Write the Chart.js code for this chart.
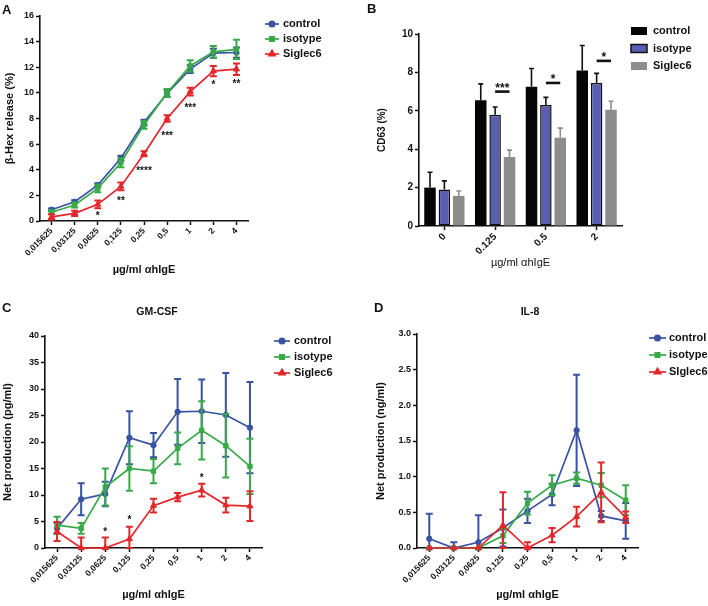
<!DOCTYPE html>
<html>
<head>
<meta charset="utf-8">
<script src="https://cdn.jsdelivr.net/npm/chart.js@4.4.1/dist/chart.umd.min.js"></script>
<style>
  html, body { margin: 0; padding: 0; background: #fff; }
  #figure { position: relative; width: 708px; height: 606px; overflow: hidden; }
  #figure canvas { position: absolute; }
</style>
</head>
<body>
<div id="figure">
  <canvas id="hexChart" width="354" height="300" style="left:0;top:0;width:354px;height:300px"></canvas>
  <canvas id="cd63Chart" width="354" height="300" style="left:354px;top:0;width:354px;height:300px"></canvas>
  <canvas id="gmChart" width="354" height="306" style="left:0;top:300px;width:354px;height:306px"></canvas>
  <canvas id="ilChart" width="354" height="306" style="left:354px;top:300px;width:354px;height:306px"></canvas>
</div>
<script>
// concentrations (µg/ml anti-hIgE)
const concLabels = ['0,015625', '0,03125', '0,0625', '0,125', '0,25', '0,5', '1', '2', '4']
const seriesNames = ['control', 'isotype', 'Siglec6']

// A - beta-hex release (%)
const hexControl = [0.88, 1.5, 2.8, 4.9, 7.7, 9.95, 11.85, 13.1, 13.15]
const hexControlErr = [0.1, 0.12, 0.15, 0.2, 0.2, 0.25, 0.3, 0.35, 0.4]
const hexIsotype = [0.68, 1.25, 2.55, 4.55, 7.5, 10.0, 12.1, 13.2, 13.4]
const hexIsotypeErr = [0.15, 0.2, 0.3, 0.35, 0.3, 0.3, 0.45, 0.45, 0.75]
const hexSiglec = [0.32, 0.6, 1.3, 2.7, 5.25, 8.0, 10.1, 11.7, 11.85]
const hexSiglecErr = [0.2, 0.2, 0.3, 0.3, 0.2, 0.25, 0.3, 0.4, 0.45]
const hexStars = ['', '', '*', '**', '****', '***', '***', '*', '**']
const hexStarsAt = [0, 0, 0.55, 1.7, 4.05, 6.8, 9.0, 10.8, 10.85]

// B - CD63 (%)
const cd63Labels = ['0', '0.125', '0.5', '2']
const cd63Control = [2.0, 6.55, 7.25, 8.1]
const cd63ControlErr = [0.8, 0.85, 0.95, 1.3]
const cd63Isotype = [1.9, 5.8, 6.3, 7.45]
const cd63IsotypeErr = [0.45, 0.4, 0.4, 0.5]
const cd63Siglec = [1.57, 3.6, 4.6, 6.05]
const cd63SiglecErr = [0.25, 0.35, 0.5, 0.45]
const cd63SigGroups = [1, 2, 3]
const cd63SigStars = ['***', '*', '*']
const cd63SigLineAt = [7.0, 7.45, 8.6]

// C - GM-CSF (pg/ml)
const gmControl = [3.7, 9.2, 10.2, 20.8, 19.4, 25.7, 25.8, 25.1, 22.7]
const gmControlErr = [1.0, 3.0, 2.3, 5.0, 2.3, 6.2, 6.0, 7.9, 8.6]
const gmIsotype = [4.3, 3.7, 11.5, 15.0, 14.5, 18.8, 22.2, 19.3, 15.4]
const gmIsotypeErr = [1.6, 1.0, 3.5, 4.2, 2.3, 3.0, 5.5, 6.0, 5.2]
const gmSiglec = [3.1, 0, 0, 1.7, 8.0, 9.6, 10.9, 8.1, 7.9]
const gmSiglecErr = [1.8, 2.0, 2.0, 2.3, 1.3, 0.8, 1.2, 1.4, 2.8]
const gmStars = ['', '', '*', '*', '', '', '*', '', '']
const gmStarsAt = [0, 0, 3.3, 5.6, 0, 0, 13.6, 0, 0]

// D - IL-8 (ng/ml)
const ilControl = [0.13, 0, 0.08, 0.28, 0.52, 0.75, 1.65, 0.45, 0.38]
const ilControlErr = [0.35, 0.08, 0.38, 0.26, 0.17, 0.15, 0.78, 0.07, 0.25]
const ilIsotype = [0, 0, 0, 0.17, 0.63, 0.88, 0.98, 0.88, 0.67]
const ilIsotypeErr = [0, 0, 0, 0.1, 0.16, 0.14, 0.08, 0.17, 0.21]
const ilSiglec = [0, 0, 0, 0.32, 0, 0.18, 0.44, 0.78, 0.43]
const ilSiglecErr = [0, 0, 0, 0.46, 0.08, 0.1, 0.14, 0.42, 0.08]

const FONT = "'Liberation Sans', Arial, Helvetica, sans-serif"
const INK = '#111'
Chart.defaults.font.family = FONT
Chart.defaults.font.weight = 'bold'
Chart.defaults.color = INK

const lineStyles = [
  { color: '#3953a4', pointStyle: 'circle', radius: 2.7, order: 2 },
  { color: '#37a948', pointStyle: 'rect', radius: 3.1, order: 1 },
  { color: '#e4262b', pointStyle: 'triangle', radius: 3.5, order: 0 },
]

const lineDataset = (idx, label, data, errors) => ({
  label: label,
  data: data,
  errors: errors,
  errorWidth: 2,
  capHalf: 3.5,
  borderColor: lineStyles[idx].color,
  backgroundColor: lineStyles[idx].color,
  borderWidth: 1.7,
  pointStyle: lineStyles[idx].pointStyle,
  pointRadius: lineStyles[idx].radius,
  pointBorderWidth: 1,
  order: lineStyles[idx].order,
  clip: false,
  tension: 0,
})

const markList = (labels, values) => labels
  .map((text, i) => ({ index: i, text: text, value: values[i] }))
  .filter(m => m.text)

// vertical error bars drawn with the chart's own y scale
const errorBarPlugin = {
  id: 'errorBars',
  afterDatasetDraw(chart, args) {
    const ds = chart.data.datasets[args.index]
    if (!ds.errors) return
    const yScale = chart.scales.y
    const ctx = chart.ctx
    ctx.save()
    ctx.strokeStyle = ds.errorColor || ds.borderColor
    ctx.lineWidth = ds.errorWidth || 1.6
    const cap = ds.capHalf || 3
    args.meta.data.forEach((el, i) => {
      const v = ds.data[i]
      const e = ds.errors[i]
      if (!e) return
      const x = el.x
      const top = yScale.getPixelForValue(v + e)
      const bottom = ds.upperOnly ? yScale.getPixelForValue(v) : yScale.getPixelForValue(Math.max(v - e, yScale.min))
      ctx.beginPath()
      ctx.moveTo(x, top)
      ctx.lineTo(x, bottom)
      ctx.moveTo(x - cap, top)
      ctx.lineTo(x + cap, top)
      if (!ds.upperOnly) {
        ctx.moveTo(x - cap, bottom)
        ctx.lineTo(x + cap, bottom)
      }
      ctx.stroke()
    })
    ctx.restore()
  }
}

// significance stars (and brackets for the bar chart)
const starPlugin = {
  id: 'stars',
  afterDatasetsDraw(chart, args, opts) {
    const ctx = chart.ctx
    const size = opts.size || 10
    ctx.save()
    ctx.fillStyle = INK
    ctx.strokeStyle = INK
    ctx.font = `bold ${size}px ${FONT}`
    ctx.textAlign = 'center'
    ctx.textBaseline = 'middle'
    ;(opts.marks || []).forEach(m => {
      let x = chart.scales.x.getPixelForValue(m.index)
      if (m.line !== undefined) {
        const x1 = chart.getDatasetMeta(1).data[m.index].x
        const x2 = chart.getDatasetMeta(2).data[m.index].x
        const yl = chart.scales.y.getPixelForValue(m.line)
        ctx.lineWidth = 2.6
        ctx.beginPath()
        ctx.moveTo(x1, yl)
        ctx.lineTo(x2, yl)
        ctx.stroke()
        x = (x1 + x2) / 2
      }
      const y = chart.scales.y.getPixelForValue(m.value)
      ctx.fillText(m.text, x, y + size * 0.22)
    })
    ctx.restore()
  }
}

const sideLegendPlugin = {
  id: 'sideLegend',
  afterDraw(chart, args, opts) {
    const ctx = chart.ctx
    ctx.save()
    ctx.font = `bold 11px ${FONT}`
    ctx.textBaseline = 'middle'
    ctx.textAlign = 'left'
    chart.data.datasets.forEach((ds, i) => {
      const y = opts.y + i * opts.gap
      if (opts.kind === 'box') {
        ctx.fillStyle = ds.backgroundColor
        ctx.fillRect(opts.x, y - 4, 16, 8)
        if (ds.borderWidth) {
          ctx.strokeStyle = ds.borderColor
          ctx.lineWidth = 1.5
          ctx.strokeRect(opts.x, y - 4, 16, 8)
        }
      } else {
        ctx.strokeStyle = ds.borderColor
        ctx.fillStyle = ds.borderColor
        ctx.lineWidth = 1.7
        ctx.beginPath()
        ctx.moveTo(opts.x, y)
        ctx.lineTo(opts.x2, y)
        ctx.stroke()
        Chart.helpers.drawPoint(ctx, {
          pointStyle: ds.pointStyle, radius: ds.pointRadius, rotation: 0, borderWidth: 1
        }, (opts.x + opts.x2) / 2, y)
      }
      ctx.fillStyle = INK
      ctx.fillText(ds.label, opts.textX, y)
    })
    ctx.restore()
  }
}

const panelTextPlugin = {
  id: 'panelText',
  afterDraw(chart, args, opts) {
    const ctx = chart.ctx
    ctx.save()
    ctx.fillStyle = INK
    ctx.textBaseline = 'middle'
    ctx.font = `bold 13px ${FONT}`
    ctx.textAlign = 'left'
    ctx.fillText(opts.letter, opts.letterX, opts.letterY)
    if (opts.title) {
      ctx.font = `bold 10.5px ${FONT}`
      ctx.textAlign = 'center'
      ctx.fillText(opts.title, opts.titleX, opts.titleY)
    }
    ctx.restore()
  }
}

const tickGrid = {
  display: true, drawOnChartArea: false, drawTicks: true,
  tickLength: 4, tickWidth: 1.5, tickColor: INK, offset: false,
}

const scalesFactory = (s) => ({
  x: {
    type: 'category',
    offset: true,
    grid: tickGrid,
    border: { display: true, color: INK, width: 1.6 },
    ticks: {
      minRotation: 45, maxRotation: 45, autoSkip: false, padding: 1,
      font: { size: s.xTickSize || 8.5, weight: 'bold' }, color: INK,
    },
    title: {
      display: true, text: 'µg/ml αhIgE', color: INK,
      font: { size: 11, weight: s.xTitleWeight || 'bold' },
      padding: { top: 0, bottom: s.xTitlePad },
    },
    afterFit: scale => { scale.height = s.xHeight },
  },
  y: {
    min: 0,
    max: s.yMax,
    grid: tickGrid,
    border: { display: true, color: INK, width: 1.6 },
    ticks: {
      stepSize: s.yStep, padding: 2, color: INK,
      font: { size: s.yTickSize || 9, weight: 'bold' },
      callback: v => v.toFixed(s.yDecimals || 0),
    },
    title: {
      display: true, text: s.yTitle, color: INK,
      font: { size: s.yTitleSize || 11, weight: 'bold' },
      padding: { top: s.yTitlePad, bottom: 0 },
    },
    afterFit: scale => { scale.width = s.yWidth },
  },
})

const graphConfigFactory = (type, labels, datasets, scaleSet, padding, pluginOpts) => ({
  type: type,
  data: { labels: labels, datasets: datasets },
  options: {
    responsive: false,
    animation: false,
    devicePixelRatio: 1,
    layout: { padding: padding },
    scales: scalesFactory(scaleSet),
    plugins: Object.assign({ legend: { display: false }, tooltip: { enabled: false } }, pluginOpts),
  },
  plugins: [errorBarPlugin, starPlugin, sideLegendPlugin, panelTextPlugin],
})

// A
new Chart(document.getElementById('hexChart').getContext('2d'), graphConfigFactory(
  'line', concLabels,
  [
    lineDataset(0, seriesNames[0], hexControl, hexControlErr),
    lineDataset(1, seriesNames[1], hexIsotype, hexIsotypeErr),
    lineDataset(2, seriesNames[2], hexSiglec, hexSiglecErr),
  ],
  { yTitle: 'β-Hex release (%)', yMax: 16, yStep: 2, yWidth: 40, yTitlePad: 3, xHeight: 79, xTitlePad: 23 },
  { left: 0, top: 16, right: 106, bottom: 0 },
  {
    stars: { size: 10, marks: markList(hexStars, hexStarsAt) },
    sideLegend: { kind: 'line', x: 265, x2: 279, textX: 283, y: 24, gap: 15 },
    panelText: { letter: 'A', letterX: 2, letterY: 10 },
  }
))

// B
const barDataset = (label, data, errors, fill, border, errColor) => ({
  label: label,
  data: data,
  errors: errors,
  upperOnly: true,
  capHalf: 2.5,
  errorWidth: 1.6,
  errorColor: errColor,
  backgroundColor: fill,
  borderColor: INK,
  borderWidth: border,
  borderSkipped: false,
  barPercentage: 0.8,
  categoryPercentage: 0.85,
})

new Chart(document.getElementById('cd63Chart').getContext('2d'), graphConfigFactory(
  'bar', cd63Labels,
  [
    barDataset(seriesNames[0], cd63Control, cd63ControlErr, '#050505', 0, INK),
    barDataset(seriesNames[1], cd63Isotype, cd63IsotypeErr, '#5a5eb0', 1.5, INK),
    barDataset(seriesNames[2], cd63Siglec, cd63SiglecErr, '#8c8c8c', 0, '#8c8c8c'),
  ],
  {
    yTitle: 'CD63 (%)', yMax: 10, yStep: 2, yWidth: 65, yTitlePad: 22, yTitleSize: 10, yTickSize: 10,
    xHeight: 74, xTitlePad: 30, xTitleWeight: 'normal', xTickSize: 10,
  },
  { left: 0, top: 34, right: 86, bottom: 0 },
  {
    stars: {
      size: 12,
      marks: cd63SigGroups.map((g, i) => ({
        index: g, text: cd63SigStars[i], line: cd63SigLineAt[i], value: cd63SigLineAt[i] + 0.3,
      })),
    },
    sideLegend: { kind: 'box', x: 277, textX: 299, y: 31, gap: 17.5 },
    panelText: { letter: 'B', letterX: 13, letterY: 9 },
  }
))

// C
new Chart(document.getElementById('gmChart').getContext('2d'), graphConfigFactory(
  'line', concLabels,
  [
    lineDataset(0, seriesNames[0], gmControl, gmControlErr),
    lineDataset(1, seriesNames[1], gmIsotype, gmIsotypeErr),
    lineDataset(2, seriesNames[2], gmSiglec, gmSiglecErr),
  ],
  { yTitle: 'Net production (pg/ml)', yMax: 40, yStep: 5, yWidth: 45, yTitlePad: 1, xHeight: 58, xTitlePad: 4 },
  { left: 0, top: 36, right: 92, bottom: 0 },
  {
    stars: { size: 10, marks: markList(gmStars, gmStarsAt) },
    sideLegend: { kind: 'line', x: 274, x2: 290, textX: 294, y: 41, gap: 16 },
    panelText: { letter: 'C', letterX: 2, letterY: 8, title: 'GM-CSF', titleX: 157, titleY: 12 },
  }
))

// D
new Chart(document.getElementById('ilChart').getContext('2d'), graphConfigFactory(
  'line', concLabels,
  [
    lineDataset(0, seriesNames[0], ilControl, ilControlErr),
    lineDataset(1, seriesNames[1], ilIsotype, ilIsotypeErr),
    lineDataset(2, 'SIglec6', ilSiglec, ilSiglecErr),
  ],
  {
    yTitle: 'Net production (ng/ml)', yMax: 3, yStep: 0.5, yDecimals: 1,
    yWidth: 63, yTitlePad: 20, xHeight: 58, xTitlePad: 4,
  },
  { left: 0, top: 34, right: 70, bottom: 0 },
  {
    sideLegend: { kind: 'line', x: 295, x2: 312, textX: 315, y: 38, gap: 17 },
    panelText: { letter: 'D', letterX: 20, letterY: 8, title: 'IL-8', titleX: 176, titleY: 12 },
  }
))
</script>
</body>
</html>
